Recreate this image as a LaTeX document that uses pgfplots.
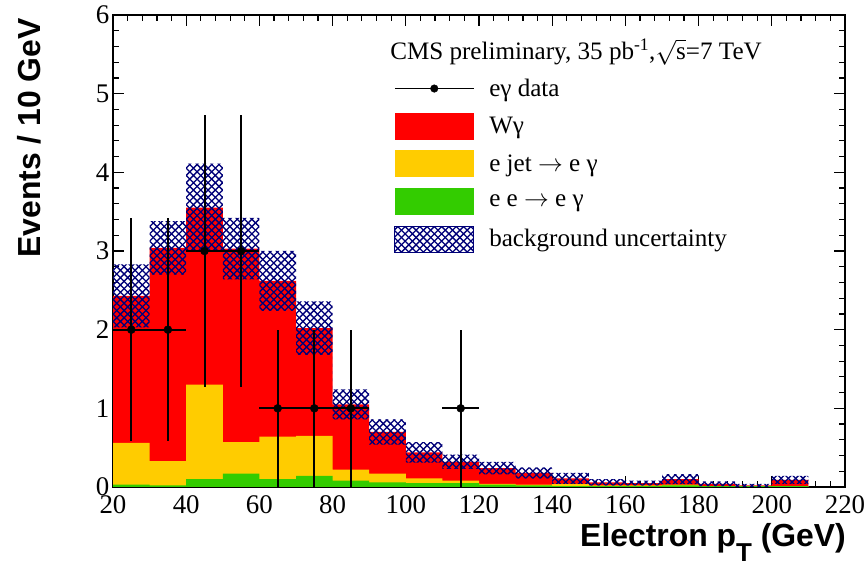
\documentclass[border=0pt]{standalone}
\usepackage{fontspec}
\setmainfont{Liberation Serif}
\newfontfamily\labelfont{Liberation Sans}
\usepackage{pgfplots}
\usepackage{pgfplotstable}
\pgfplotsset{compat=1.18}
\usepgfplotslibrary{fillbetween}
\usetikzlibrary{patterns,calc}

\definecolor{wgred}{RGB}{255,0,0}
\definecolor{ejetyellow}{RGB}{255,204,0}
\definecolor{eegreen}{RGB}{51,204,0}
\definecolor{hatchblue}{RGB}{0,0,120}

% diagonal cross-hatching for the background uncertainty band
\pgfdeclarepatternformonly{diagcross}{\pgfqpoint{-1bp}{-1bp}}{\pgfqpoint{8.3bp}{8.3bp}}{\pgfqpoint{7.3bp}{7.3bp}}{%
  \pgfsetlinewidth{1.3bp}%
  \pgfpathmoveto{\pgfqpoint{0bp}{0bp}}\pgfpathlineto{\pgfqpoint{7.3bp}{7.3bp}}%
  \pgfpathmoveto{\pgfqpoint{0bp}{7.3bp}}\pgfpathlineto{\pgfqpoint{7.3bp}{0bp}}%
  \pgfusepath{stroke}}

% expected yields per 10 GeV bin (bin low edge), stacked: e e -> e gamma, e jet -> e gamma, W gamma
\pgfplotstableread{
lo   ee    ejet  wg    unc
20   0.03  0.53  1.87  0.40
30   0.02  0.31  2.71  0.34
40   0.10  1.20  2.25  0.56
50   0.17  0.40  2.46  0.39
60   0.10  0.54  1.98  0.38
70   0.14  0.51  1.37  0.34
80   0.08  0.14  0.83  0.19
90   0.06  0.11  0.53  0.16
100  0.05  0.06  0.33  0.13
110  0.05  0.03  0.24  0.09
120  0.03  0.01  0.20  0.08
130  0.02  0.01  0.15  0.07
140  0.01  0.03  0.07  0.07
150  0.01  0.01  0.04  0.04
160  0.01  0.01  0.03  0.03
170  0.02  0.01  0.07  0.065
180  0.01  0.00  0.03  0.03
190  0.01  0.00  0.01  0.02
200  0.01  0.00  0.08  0.05
210  0.00  0.00  0.00  0.00
220  0.00  0.00  0.00  0.00
}\hist

% observed e gamma candidates
\pgfplotstableread{
x    y   ex  ey
25   2   5   1.414
35   2   5   1.414
45   3   5   1.732
55   3   5   1.732
65   1   5   1
75   1   5   1
85   1   5   1
115  1   5   1
}\data

\newcommand{\legfont}{\fontsize{25.2}{26}\selectfont}

\begin{document}
\begin{tikzpicture}
\begin{axis}[
  scale only axis,
  width=732bp, height=472bp,
  xmin=20, xmax=220, ymin=0, ymax=6,
  xtick distance=20, ytick distance=1,
  minor tick num=4,
  tick align=inside,
  major tick length=11bp, minor tick length=6bp,
  tick style={black, line width=1.2bp},
  axis line style={line width=1.3bp},
  /pgf/number format/assume math mode=true,
  tick label style={font=\fontsize{27}{27}\selectfont},
  yticklabel style={inner xsep=3.5bp},
  xticklabel style={inner ysep=8bp},
  fill between/on layer=main,
  xlabel={\labelfont\bfseries\fontsize{32}{32}\selectfont Electron p\raisebox{-15bp}{\fontsize{26}{26}\selectfont T} (GeV)},
  xlabel style={at={(rel axis cs:1.0014,-0.125)}, anchor=base east, inner sep=0pt},
  ylabel={\labelfont\bfseries\fontsize{32}{32}\selectfont Events / 10 GeV},
  ylabel style={at={(rel axis cs:-0.0997,0.9936)}, anchor=base east, inner sep=0pt},
  legend style={at={(axis cs:96.8,5.233)}, anchor=north west, draw=none, fill=none,
    inner sep=0pt, font=\legfont, row sep=11.2bp, column sep=15bp,
    nodes={inner sep=0pt}, cells={anchor=west}},
]
  \coordinate (bl) at (rel axis cs:0,0);
  \coordinate (tr) at (rel axis cs:1,1);

  % stacked histograms, drawn from the top of the stack down
  \addplot[const plot, fill=wgred, draw=none, forget plot]
    table[x=lo, y expr=\thisrow{ee}+\thisrow{ejet}+\thisrow{wg}] {\hist} \closedcycle;
  \addplot[const plot, fill=ejetyellow, draw=none, forget plot]
    table[x=lo, y expr=\thisrow{ee}+\thisrow{ejet}] {\hist} \closedcycle;
  \addplot[const plot, fill=eegreen, draw=none, forget plot]
    table[x=lo, y=ee] {\hist} \closedcycle;

  % background uncertainty band around the total
  \addplot[const plot, draw=none, forget plot, name path=bandup]
    table[x=lo, y expr=\thisrow{ee}+\thisrow{ejet}+\thisrow{wg}+\thisrow{unc}] {\hist};
  \addplot[const plot, draw=none, forget plot, name path=banddn]
    table[x=lo, y expr=\thisrow{ee}+\thisrow{ejet}+\thisrow{wg}-\thisrow{unc}] {\hist};
  \addplot[pattern=diagcross, pattern color=hatchblue, draw=none, forget plot]
    fill between[of=bandup and banddn];

  % data with statistical errors
  \addplot[only marks, mark=*, mark size=4bp, black, forget plot,
    error bars/.cd, x dir=both, x explicit, y dir=both, y explicit,
    error mark=none, error bar style={line width=2bp, black}]
    table[x=x, y=y, x error=ex, y error=ey] {\data};

  \node[anchor=base west, font=\legfont, inner sep=0pt] at (axis cs:95.7,5.44)
    {CMS preliminary, 35 pb\textsuperscript{-1},$\sqrt{\mbox{s}}$=7 TeV};

  \addlegendimage{legend image code/.code={
    \path[draw=none, fill=none] (0bp,-13bp) rectangle (78.7bp,13bp);
    \draw[black, line width=1.3bp] (0bp,0bp) -- (78.7bp,0bp);
    \fill[black] (39.35bp,0bp) circle (3.8bp);}}
  \addlegendentry{eγ data}
  \addlegendimage{legend image code/.code={\fill[wgred] (0bp,-13bp) rectangle (78.7bp,13bp);}}
  \addlegendentry{Wγ}
  \addlegendimage{legend image code/.code={\fill[ejetyellow] (0bp,-13bp) rectangle (78.7bp,13bp);}}
  \addlegendentry{e jet $\rightarrow$ e γ}
  \addlegendimage{legend image code/.code={\fill[eegreen] (0bp,-13bp) rectangle (78.7bp,13bp);}}
  \addlegendentry{e e $\rightarrow$ e γ}
  \addlegendimage{legend image code/.code={\draw[pattern=diagcross, pattern color=hatchblue, draw=hatchblue, line width=1bp] (0bp,-13bp) rectangle (78.7bp,13bp);}}
  \addlegendentry{background uncertainty}
\end{axis}
\pgfresetboundingbox
\path[use as bounding box] ($(bl)+(-113bp,-79bp)$) rectangle ($(tr)+(22bp,15bp)$);
\end{tikzpicture}
\end{document}
